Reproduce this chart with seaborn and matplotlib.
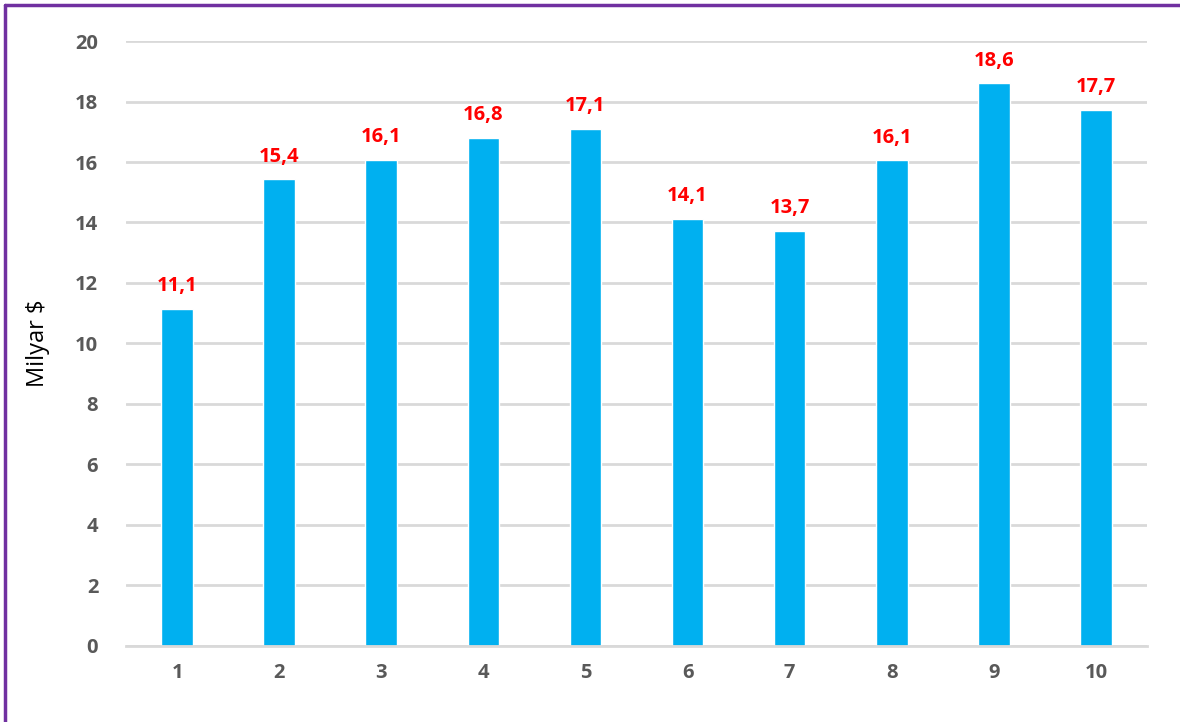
import matplotlib
matplotlib.use("Agg")
import matplotlib.pyplot as plt
from matplotlib.lines import Line2D
import seaborn as sns
import pandas as pd

# Data
categories = ["1", "2", "3", "4", "5", "6", "7", "8", "9", "10"]
values = [11.15, 15.43, 16.08, 16.8, 17.1, 14.12, 13.72, 16.05, 18.6, 17.72]
labels = ["11,1", "15,4", "16,1", "16,8", "17,1", "14,1", "13,7", "16,1", "18,6", "17,7"]
yticks = [0, 2, 4, 6, 8, 10, 12, 14, 16, 18, 20]

df = pd.DataFrame({"cat": categories, "val": values})

sns.set_style("white")
plt.rcParams["font.family"] = ["Open Sans", "DejaVu Sans"]

fig = plt.figure(figsize=(11.8, 7.22), dpi=100)
ax = fig.add_axes([0.1068, 0.1053, 0.8652, 0.8379])

sns.barplot(data=df, x="cat", y="val", color="#00B0F0", saturation=1,
            width=0.31, ax=ax)

ax.set_ylim(0, 20)
ax.set_xlim(-0.5, len(categories) - 0.5)
ax.set_yticks(yticks)
ax.yaxis.grid(True, color="#D9D9D9", linewidth=2)
ax.set_axisbelow(True)
for s in ["top", "right", "left"]:
    ax.spines[s].set_visible(False)
ax.spines["bottom"].set_color("#D9D9D9")
ax.spines["bottom"].set_linewidth(2)
ax.tick_params(axis="both", length=0, labelsize=14.5, labelcolor="#595959")
ax.tick_params(axis="y", pad=20)
ax.tick_params(axis="x", pad=12)
for t in ax.get_xticklabels() + ax.get_yticklabels():
    t.set_fontweight("bold")

ax.set_xlabel("")
ax.set_ylabel("Milyar $", fontsize=17, color="black", labelpad=18)

for i, (v, lab) in enumerate(zip(values, labels)):
    ax.annotate(lab, (i, v), xytext=(0, 9), textcoords="offset points",
                ha="center", va="bottom", color="#FF0000",
                fontsize=14.5, fontweight="bold")

# purple frame (only top and left edges visible)
fig.add_artist(Line2D([5 / 1180, 5 / 1180], [0, 1 - 5 / 722],
                      transform=fig.transFigure, color="#7030A0", linewidth=2.5))
fig.add_artist(Line2D([5 / 1180, 1], [1 - 5 / 722, 1 - 5 / 722],
                      transform=fig.transFigure, color="#7030A0", linewidth=2.5))

fig.savefig("out.png", dpi=100)
